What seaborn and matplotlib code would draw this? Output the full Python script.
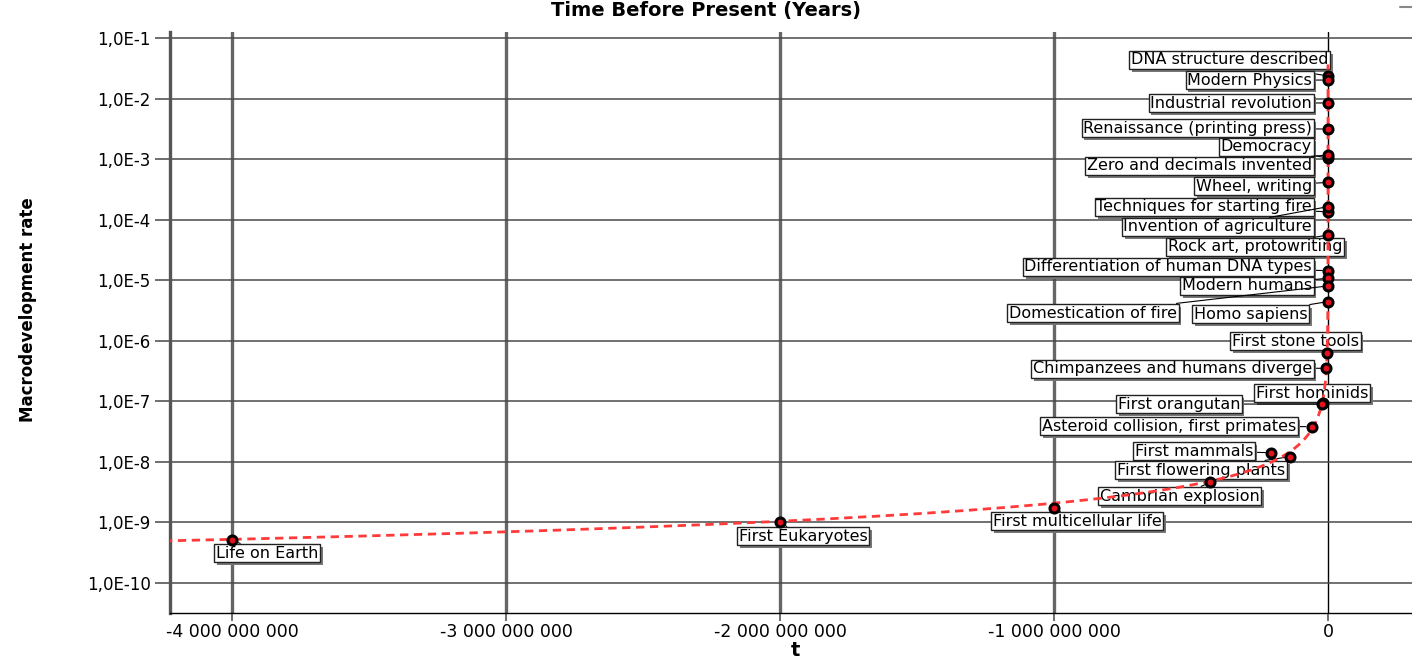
import numpy as np
import pandas as pd
import matplotlib
matplotlib.use("Agg")
import matplotlib.pyplot as plt
import matplotlib.patheffects as pe
from matplotlib.ticker import FixedLocator, FuncFormatter, NullLocator
import seaborn as sns

# events, years before present and macrodevelopment rate
events = [
    "DNA structure described", "Modern Physics", "Industrial revolution",
    "Renaissance (printing press)", "Democracy", "Zero and decimals invented",
    "Wheel, writing", "Techniques for starting fire", "Invention of agriculture",
    "Rock art, protowriting", "Differentiation of human DNA types", "Modern humans",
    "Domestication of fire", "Homo sapiens", "First stone tools",
    "Chimpanzees and humans diverge", "First hominids", "First orangutan",
    "Asteroid collision, first primates", "First mammals", "First flowering plants",
    "Cambrian explosion", "First multicellular life", "First Eukaryotes", "Life on Earth",
]
years_bp = [50, 100, 250, 550, 2500, 1500, 5500, 12000, 10000, 40000,
            150000, 200000, 250000, 400000, 3.3e6, 6e6, 19e6, 21e6,
            60e6, 208e6, 139e6, 430e6, 1.0e9, 2.0e9, 4.0e9]
rates = [2.36e-2, 2.02e-2, 8.45e-3, 3.14e-3, 1.04e-3, 1.17e-3, 4.11e-4,
         1.35e-4, 1.64e-4, 5.58e-5, 1.44e-5, 1.08e-5, 8.04e-6, 4.43e-6,
         6.22e-7, 3.52e-7, 9.4e-8, 9.0e-8, 3.82e-8, 1.42e-8, 1.22e-8,
         4.6e-9, 1.75e-9, 1.0e-9, 5.05e-10]

# label box anchors in figure pixels measured from the top-left, and alignment
label_x = [1131, 1312, 1312, 1312, 1312, 1312, 1312, 1312, 1312, 1168,
           1312, 1312, 1177, 1194, 1232, 1312, 1256, 1240, 1296, 1253,
           1117, 1100, 993, 739, 216]
label_y = [60, 80, 103, 128, 147, 166, 186, 207, 227, 247,
           267, 286, 313, 314, 341, 369, 393, 404, 426, 451,
           470, 496, 521, 536, 553]
label_ha = ["left", "right", "right", "right", "right", "right", "right", "right",
            "right", "left", "right", "right", "right", "left", "left", "right",
            "left", "right", "right", "right", "left", "left", "left", "left", "left"]

x_ticks = [-4e9, -3e9, -2e9, -1e9, 0]
y_decades = list(range(1, 11))

W, H = 1412, 664

sns.set_style("white")
plt.rcParams["font.family"] = ["DejaVu Sans"]
plt.rcParams["text.color"] = "black"
plt.rcParams["xtick.labelcolor"] = "black"
plt.rcParams["ytick.labelcolor"] = "black"

df = pd.DataFrame({"event": events, "t": -np.array(years_bp, dtype=float), "rate": rates})

# power law fit through the points (log-log), drawn over the range of the data
slope, intercept = np.polyfit(np.log10(years_bp), np.log10(rates), 1)
t_fit = np.logspace(np.log10(4.4e9), np.log10(min(years_bp)), 500)
fit_df = pd.DataFrame({"t": -t_fit, "rate": 10 ** (intercept + slope * np.log10(t_fit))})

fig = plt.figure(figsize=(W / 100, H / 100), dpi=100)
ax = fig.add_axes([170 / W, 1 - 613 / H, 1 - 170 / W, (613 - 32) / H])
ax.set_yscale("log")
ax.set_xlim(-4.226e9, 0.3066e9)
ax.set_ylim(10 ** -10.495, 10 ** -0.901)

# grid
for v in x_ticks:
    if v == 0:
        ax.axvline(v, color="black", lw=1.0, zorder=1)
    else:
        ax.axvline(v, color="#555555", lw=2.4, alpha=0.9, zorder=1)
for k in y_decades:
    ax.axhline(10.0 ** -k, color="#4a4a4a", lw=1.1, zorder=1)

sns.lineplot(data=fit_df, x="t", y="rate", ax=ax, color="#ff3a3a", lw=2,
             linestyle=(0, (3, 2)), zorder=5, sort=False)
sns.scatterplot(data=df, x="t", y="rate", ax=ax, s=42, color="#e3121c",
                edgecolor="black", linewidth=2.2, zorder=6, legend=False)

for name, lx, ly, ha, xv, yv in zip(events, label_x, label_y, label_ha, df["t"], df["rate"]):
    an = ax.annotate(name, xy=(xv, yv), xytext=(lx, H - ly), textcoords="figure pixels",
                     ha=ha, va="center", fontsize=11.5, color="black", zorder=3,
                     annotation_clip=False,
                     bbox=dict(boxstyle="square,pad=0.1", fc="white", ec="#222222", lw=1),
                     arrowprops=dict(arrowstyle="-", color="black", lw=0.8,
                                     shrinkA=0, shrinkB=4))
    an.get_bbox_patch().set_path_effects(
        [pe.withSimplePatchShadow(offset=(2, -2), shadow_rgbFace="#777777", alpha=1.0)])

# axes styling
for s in ["top", "right"]:
    ax.spines[s].set_visible(False)
ax.spines["left"].set_color("#555555")
ax.spines["left"].set_linewidth(2.4)
ax.spines["bottom"].set_color("black")
ax.spines["bottom"].set_linewidth(1.0)

ax.xaxis.set_major_locator(FixedLocator(x_ticks))
ax.xaxis.set_major_formatter(FuncFormatter(lambda v, p: f"{v:,.0f}".replace(",", " ")))
ax.yaxis.set_major_locator(FixedLocator([10.0 ** -k for k in y_decades]))
ax.yaxis.set_major_formatter(FuncFormatter(lambda v, p: f"1,0E-{int(round(-np.log10(v)))}"))
ax.yaxis.set_minor_locator(NullLocator())
ax.tick_params(axis="y", which="major", direction="out", length=11, width=1.2,
               color="#555555", labelcolor="black", labelsize=12, pad=3, left=True)
ax.tick_params(axis="x", which="major", direction="out", length=6, width=1.2,
               color="#555555", labelcolor="black", labelsize=12.5, pad=1, bottom=True)
ax.set_xlabel("")
ax.set_ylabel("")

fig.text(706 / W, 1 - 1 / H, "Time Before Present (Years)", ha="center", va="top",
         fontsize=14, fontweight="bold", color="black")
fig.text(28 / W, 1 - 310 / H, "Macrodevelopment rate", rotation=90, ha="center",
         va="center", fontsize=12, fontweight="bold", color="black",
         family=["Liberation Sans Narrow", "DejaVu Sans"])
fig.text(795 / W, 1 - 650 / H, "t", ha="center", va="center", fontsize=14,
         fontweight="bold", color="black")
fig.add_artist(plt.Line2D([1400 / W, 1], [1 - 7 / H, 1 - 7 / H], color="#888888", lw=1.5))

fig.savefig("out.png", dpi=100)
